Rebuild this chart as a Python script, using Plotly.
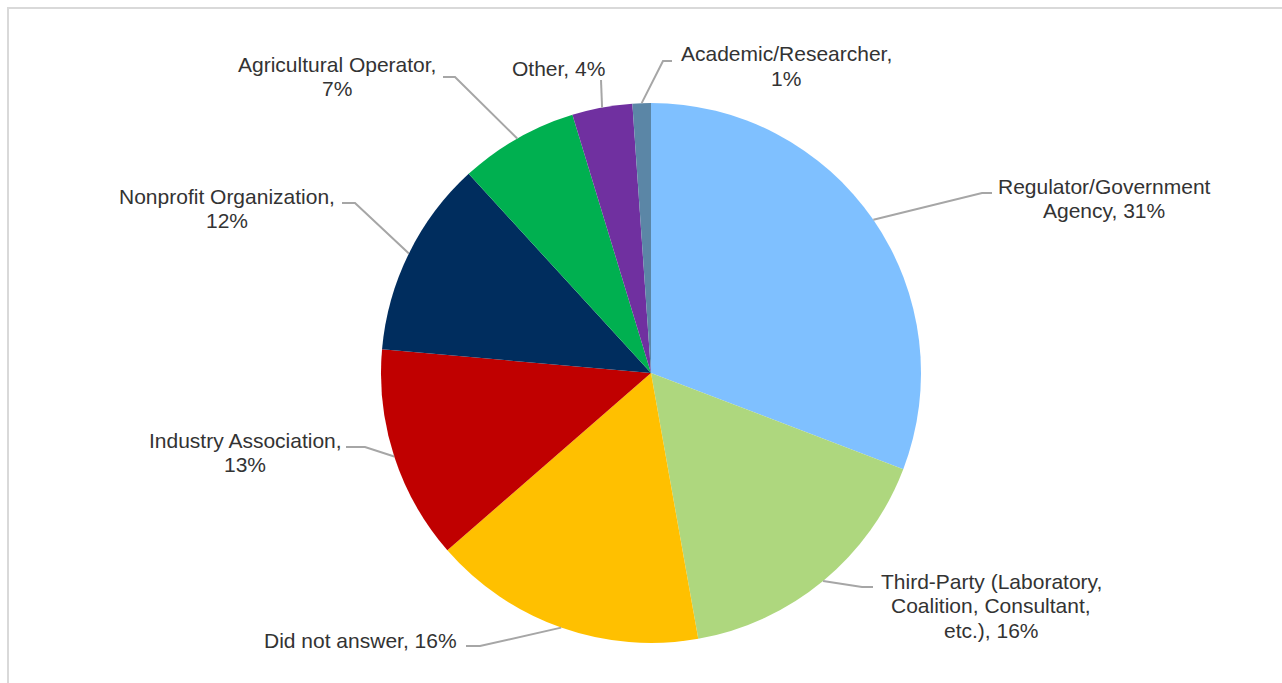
import math
import plotly.graph_objects as go

categories = [
    "Regulator/Government Agency",
    "Third-Party (Laboratory, Coalition, Consultant, etc.)",
    "Did not answer",
    "Industry Association",
    "Nonprofit Organization",
    "Agricultural Operator",
    "Other",
    "Academic/Researcher",
]
values = [30.8, 16.4, 16.4, 12.8, 11.8, 7.1, 3.6, 1.1]
colors = ["#7FC0FF", "#AED77E", "#FFC000", "#C00000", "#002D5E", "#00B050", "#7030A0", "#5B86A6"]

# label text lines shown next to each slice
label_lines = [
    ["Regulator/Government", "Agency, {p}%"],
    ["Third-Party (Laboratory,", "Coalition, Consultant,", "etc.), {p}%"],
    ["Did not answer, {p}%"],
    ["Industry Association,", "{p}%"],
    ["Nonprofit Organization,", "{p}%"],
    ["Agricultural Operator,", "{p}%"],
    ["Other, {p}%"],
    ["Academic/Researcher,", "{p}%"],
]

W, H = 1282, 683
CX, CY, R = 651, 373, 270
LINE_H = 24.5

# layout: label centre x and first-line y (px), leader elbow (px), leader end (px)
label_pos = [(1104, 186), (991, 581), (360, 640), (245, 440), (227, 196), (337, 64), (558, 68), (786, 54)]
elbows = [(982, 193), (862, 587), (480, 646), (365, 447), (355, 203), (455, 77), (601, 80), (663, 61)]
ends = [(992, 193), (873, 587), (466, 646), (346, 447), (342, 203), (443, 77), (601, 80), (672, 61)]

def px(x):
    return x / W

def py(y):
    return 1 - y / H

fig = go.Figure()
fig.add_trace(go.Pie(
    labels=categories,
    values=values,
    sort=False,
    direction="clockwise",
    rotation=0,
    marker=dict(colors=colors, line=dict(width=0)),
    textinfo="none",
    hoverinfo="label+percent",
    showlegend=False,
    domain=dict(x=[px(CX - R), px(CX + R)], y=[py(CY + R), py(CY - R)]),
))

total = sum(values)
shapes = [dict(type="rect", xref="paper", yref="paper", x0=px(8), y0=py(8), x1=px(W + 10), y1=py(H + 10),
               line=dict(color="#D9D9D9", width=2), fillcolor="rgba(0,0,0,0)")]
annotations = []
cum = 0
for i, v in enumerate(values):
    mid = (cum + v / 2) / total * 2 * math.pi
    cum += v
    sx = CX + R * math.sin(mid)
    sy = CY - R * math.cos(mid)
    ex, ey = elbows[i]
    fx, fy = ends[i]
    path = f"M {px(sx)},{py(sy)} L {px(ex)},{py(ey)} L {px(fx)},{py(fy)}"
    shapes.append(dict(type="path", xref="paper", yref="paper", path=path,
                       line=dict(color="#A6A6A6", width=2)))
    pct = round(v / total * 100)
    lx, ly = label_pos[i]
    for k, line in enumerate(label_lines[i]):
        annotations.append(dict(
            text=line.format(p=pct), x=px(lx), y=py(ly + k * LINE_H), xref="paper", yref="paper",
            xanchor="center", yanchor="middle", align="center", showarrow=False,
            font=dict(family="Liberation Sans, Arial, sans-serif", size=21, color="#333333"),
        ))

fig.update_layout(
    width=W, height=H,
    margin=dict(l=0, r=0, t=0, b=0),
    paper_bgcolor="white",
    plot_bgcolor="white",
    shapes=shapes,
    annotations=annotations,
)
fig.write_html("out.html")
